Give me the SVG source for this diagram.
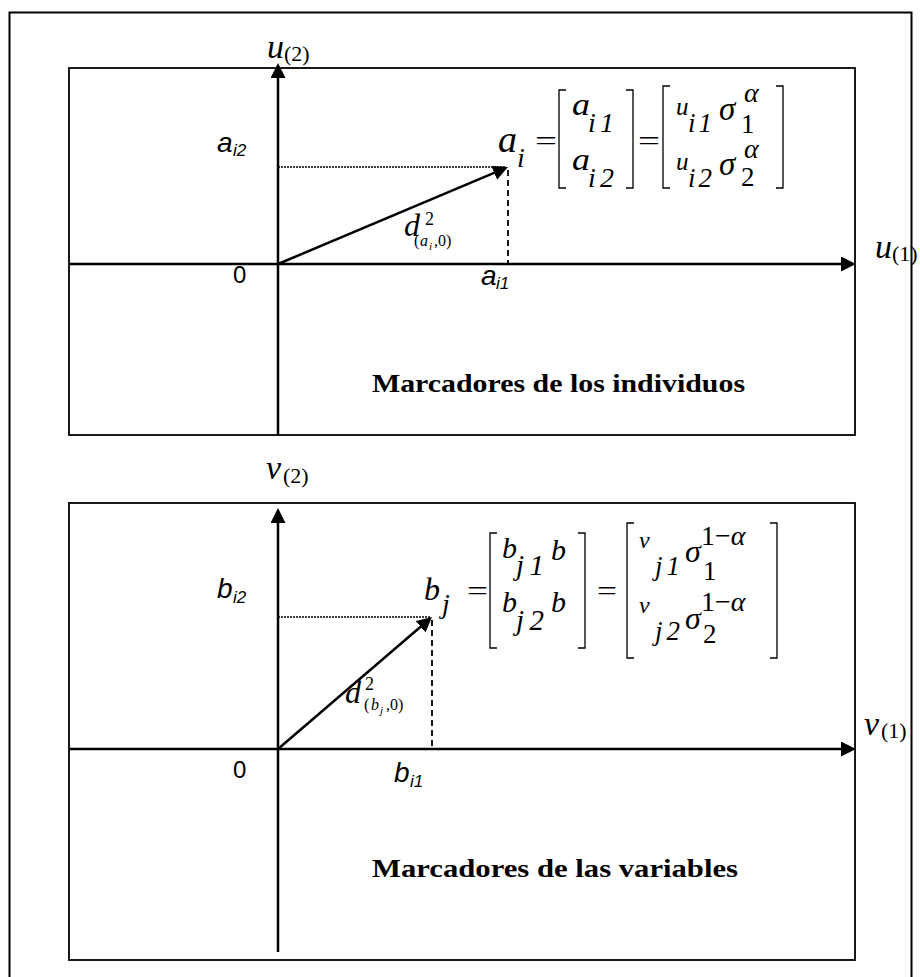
<svg xmlns="http://www.w3.org/2000/svg" width="920" height="977" viewBox="0 0 920 977">
<style>
.box{fill:none;stroke:#000;stroke-width:1.8}
.ax{stroke:#000;stroke-width:2.5;fill:none}
.dot{stroke:#000;stroke-width:1.5;stroke-dasharray:2,1;fill:none}
.dash{stroke:#000;stroke-width:1.8;stroke-dasharray:6,4;fill:none}
.br{stroke:#000;stroke-width:1.3;fill:none}
.m{font-family:"Liberation Serif",serif;font-style:italic;fill:#000}
.r{font-family:"Liberation Serif",serif;fill:#000}
.sa{font-family:"Liberation Sans",sans-serif;font-style:italic;fill:#000}
.zero{font-family:"Liberation Sans",sans-serif;font-size:24px;fill:#000}
.t{font-family:"Liberation Serif",serif;font-weight:bold;font-size:26px;fill:#000}
</style>
<defs>
<marker id="ah" markerUnits="userSpaceOnUse" markerWidth="16" markerHeight="16" refX="5" refY="7.5" orient="auto">
<path d="M0,0 L15,7.5 L0,15 z" fill="#000"/>
</marker>
</defs>
<rect width="920" height="977" fill="#fff"/>
<path d="M9.5,977 L9.5,12.5 L911.5,12.5 L911.5,977" fill="none" stroke="#000" stroke-width="2"/>

<g id="panel-individuos">
<rect class="box" x="69" y="68" width="786" height="367"/>
<text class="t" x="372" y="392" textLength="373" lengthAdjust="spacingAndGlyphs">Marcadores de los individuos</text>
</g>
<g id="panel-variables">
<rect class="box" x="69" y="503" width="786" height="457"/>
<text class="t" x="372" y="877" textLength="366" lengthAdjust="spacingAndGlyphs">Marcadores de las variables</text>
</g>

<g id="connectors">
<line class="ax" x1="278" y1="435" x2="278" y2="73" marker-end="url(#ah)"/>
<line class="ax" x1="69" y1="264" x2="846" y2="264" marker-end="url(#ah)"/>
<line class="dot" x1="278" y1="167" x2="506" y2="167"/>
<line class="dash" x1="508" y1="170" x2="508" y2="264"/>
<line class="ax" x1="278" y1="264" x2="498.8" y2="170.9" marker-end="url(#ah)"/>

<line class="ax" x1="278" y1="952" x2="278" y2="518" marker-end="url(#ah)"/>
<line class="ax" x1="69" y1="749" x2="846" y2="749" marker-end="url(#ah)"/>
<line class="dot" x1="278" y1="617" x2="430" y2="617"/>
<line class="dash" x1="432" y1="620" x2="432" y2="749"/>
<line class="ax" x1="278" y1="749" x2="424.4" y2="623.5" marker-end="url(#ah)"/>
</g>

<g id="axis-labels-top">
<text class="m" x="267" y="58" style="font-size:34px">u</text><text class="r" x="284" y="61" style="font-size:22px">(2)</text>
<text class="m" x="875" y="258" style="font-size:34px">u</text><text class="r" x="892" y="261" style="font-size:22px">(1)</text>
<text class="sa" x="217" y="152" style="font-size:28px">a</text><text class="sa" x="233" y="156" style="font-size:17px">i2</text>
<text class="sa" x="481" y="285" style="font-size:28px">a</text><text class="sa" x="496" y="289" style="font-size:17px">i1</text>
<text class="zero" x="233" y="283">0</text>
</g>

<g id="d-label-top">
<text class="m" x="404" y="236" style="font-size:32px">d</text>
<text class="r" x="425" y="225" style="font-size:18px">2</text>
<text class="r" x="414" y="246" style="font-size:16px">(</text>
<text class="m" x="420" y="246" style="font-size:16px">a</text>
<text class="m" x="429" y="250" style="font-size:11px">i</text>
<text class="r" x="434" y="246" style="font-size:16px">,0)</text>
</g>

<g id="eq-top">
<text class="m" x="498" y="152" style="font-size:38px">a</text>
<text class="m" x="517" y="167" style="font-size:28px">i</text>
<text class="r" x="535" y="150" style="font-size:28px" textLength="22" lengthAdjust="spacingAndGlyphs">=</text>
<path class="br" d="M566,90 L559,90 L559,188 L566,188"/>
<text class="m" x="572" y="115" style="font-size:32px" textLength="18" lengthAdjust="spacingAndGlyphs">a</text>
<text class="m" x="588" y="132" style="font-size:28px" textLength="26">i1</text>
<text class="m" x="572" y="170" style="font-size:32px" textLength="18" lengthAdjust="spacingAndGlyphs">a</text>
<text class="m" x="588" y="187" style="font-size:28px" textLength="26">i2</text>
<path class="br" d="M626,90 L633,90 L633,188 L626,188"/>
<text class="r" x="638" y="150" style="font-size:28px" textLength="22" lengthAdjust="spacingAndGlyphs">=</text>
<path class="br" d="M670,86 L663,86 L663,188 L670,188"/>
<text class="m" x="676" y="115" style="font-size:25px">u</text>
<text class="m" x="688" y="132" style="font-size:27px" textLength="24">i1</text>
<text class="m" x="719" y="120" style="font-size:33px">σ</text>
<text class="m" x="744" y="102" style="font-size:28px">α</text>
<text class="r" x="741" y="133" style="font-size:27px">1</text>
<text class="m" x="676" y="170" style="font-size:25px">u</text>
<text class="m" x="688" y="187" style="font-size:27px" textLength="24">i2</text>
<text class="m" x="719" y="175" style="font-size:33px">σ</text>
<text class="m" x="744" y="158" style="font-size:28px">α</text>
<text class="r" x="741" y="186" style="font-size:27px">2</text>
<path class="br" d="M776,86 L783,86 L783,188 L776,188"/>
</g>

<g id="axis-labels-bottom">
<text class="m" x="266" y="479" style="font-size:34px">v</text><text class="r" x="283" y="483" style="font-size:22px">(2)</text>
<text class="m" x="864" y="735" style="font-size:34px">v</text><text class="r" x="881" y="738" style="font-size:22px">(1)</text>
<text class="sa" x="217" y="598" style="font-size:28px">b</text><text class="sa" x="233" y="603" style="font-size:17px">i2</text>
<text class="sa" x="394" y="782" style="font-size:28px">b</text><text class="sa" x="410" y="787" style="font-size:17px">i1</text>
<text class="zero" x="233" y="778">0</text>
</g>

<g id="d-label-bottom">
<text class="m" x="345" y="703" style="font-size:32px">d</text>
<text class="r" x="365" y="690" style="font-size:18px">2</text>
<text class="r" x="364" y="710" style="font-size:16px">(</text>
<text class="m" x="371" y="710" style="font-size:16px">b</text>
<text class="m" x="380" y="714" style="font-size:11px">j</text>
<text class="r" x="386" y="710" style="font-size:16px">,0)</text>
</g>

<g id="eq-bottom">
<text class="m" x="424" y="600" style="font-size:32px">b</text>
<text class="m" x="442" y="613" style="font-size:28px">j</text>
<text class="r" x="467" y="600" style="font-size:28px" textLength="21" lengthAdjust="spacingAndGlyphs">=</text>
<path class="br" d="M497,533 L490,533 L490,648 L497,648"/>
<text class="m" x="502" y="558" style="font-size:30px">b</text>
<text class="m" x="516" y="575" style="font-size:29px" textLength="28">j1</text>
<text class="m" x="551" y="560" style="font-size:30px">b</text>
<text class="m" x="502" y="612" style="font-size:30px">b</text>
<text class="m" x="516" y="630" style="font-size:29px" textLength="28">j2</text>
<text class="m" x="551" y="612" style="font-size:30px">b</text>
<path class="br" d="M578,533 L585,533 L585,648 L578,648"/>
<text class="r" x="597" y="600" style="font-size:28px" textLength="20" lengthAdjust="spacingAndGlyphs">=</text>
<path class="br" d="M634,523 L627,523 L627,658 L634,658"/>
<text class="m" x="639" y="548" style="font-size:24px">v</text>
<text class="m" x="655" y="575" style="font-size:27px" textLength="25">j1</text>
<text class="m" x="685" y="562" style="font-size:32px">σ</text>
<text class="r" x="701" y="545" style="font-size:28px">1−<tspan font-style="italic">α</tspan></text>
<text class="r" x="703" y="580" style="font-size:27px">1</text>
<text class="m" x="639" y="613" style="font-size:24px">v</text>
<text class="m" x="655" y="640" style="font-size:27px" textLength="25">j2</text>
<text class="m" x="685" y="629" style="font-size:32px">σ</text>
<text class="r" x="701" y="611" style="font-size:28px">1−<tspan font-style="italic">α</tspan></text>
<text class="r" x="703" y="643" style="font-size:27px">2</text>
<path class="br" d="M770,523 L777,523 L777,658 L770,658"/>
</g>
</svg>
